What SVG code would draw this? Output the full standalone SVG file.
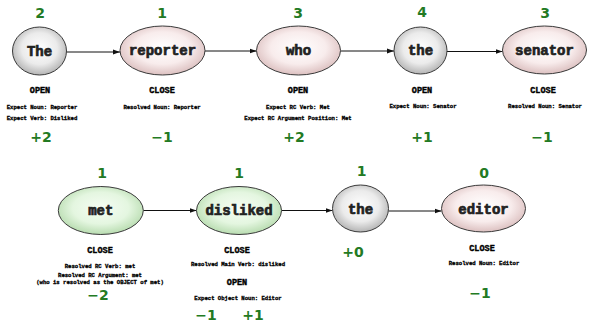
<svg xmlns="http://www.w3.org/2000/svg" width="589" height="325" viewBox="0 0 589 325">
  <defs>
    <radialGradient id="gGray" cx="50%" cy="45%" r="55%">
      <stop offset="0" stop-color="#ffffff"/>
      <stop offset="0.6" stop-color="#ebebeb"/>
      <stop offset="1" stop-color="#b4b4b4"/>
    </radialGradient>
    <radialGradient id="gPink" cx="50%" cy="45%" r="55%">
      <stop offset="0" stop-color="#ffffff"/>
      <stop offset="0.6" stop-color="#f8ecec"/>
      <stop offset="1" stop-color="#dcc0c0"/>
    </radialGradient>
    <radialGradient id="gGreen" cx="50%" cy="45%" r="55%">
      <stop offset="0" stop-color="#f6fdf4"/>
      <stop offset="0.6" stop-color="#e4f6e0"/>
      <stop offset="1" stop-color="#b8dcb0"/>
    </radialGradient>
    <marker id="arrow" markerWidth="7" markerHeight="6" refX="7" refY="3" orient="auto" markerUnits="userSpaceOnUse">
      <path d="M0,0.5 L7,3 L0,5.5 z" fill="#111"/>
    </marker>
  </defs>
  <style>
    .node { stroke: #3a3a3a; stroke-width: 1; }
    .gray { fill: url(#gGray); }
    .pink { fill: url(#gPink); }
    .green { fill: url(#gGreen); }
    .mono { font-family: 'Liberation Mono', 'DejaVu Sans Mono', monospace; font-weight: bold; text-anchor: middle; }
    .lbl { font-size: 14px; fill: #222; dominant-baseline: central; stroke: #222; stroke-width: 0.7; }
    .num { font-family: 'DejaVu Sans', Verdana, sans-serif; font-weight: bold; font-size: 14px; fill: #237a23; text-anchor: middle; }
    .act { font-size: 8.5px; fill: #000; stroke: #000; stroke-width: 0.4; }
    .det { font-size: 5.6px; fill: #000; stroke: #000; stroke-width: 0.3; }
    .edge { stroke: #111; stroke-width: 1; fill: none; marker-end: url(#arrow); }
  </style>

  <!-- connectors -->
  <g id="connectors">
    <line class="edge" x1="66.5" y1="52" x2="120" y2="52"/>
    <line class="edge" x1="205" y1="51" x2="256.5" y2="51"/>
    <line class="edge" x1="340.5" y1="51" x2="394" y2="51"/>
    <line class="edge" x1="447" y1="51.5" x2="502.5" y2="51.5"/>
    <line class="edge" x1="143.3" y1="210.5" x2="196.5" y2="210.5"/>
    <line class="edge" x1="281.5" y1="210.5" x2="332.5" y2="210.5"/>
    <line class="edge" x1="388.5" y1="211" x2="441.5" y2="211"/>
  </g>

  <!-- row 1 -->
  <g id="n-The">
    <text class="num" x="40" y="18">2</text>
    <ellipse class="node gray" cx="39.5" cy="51" rx="27" ry="24"/>
    <text class="mono lbl" x="39.5" y="52">The</text>
    <text class="mono act" x="40" y="93">OPEN</text>
    <text class="mono det" x="42" y="108.5">Expect Noun: Reporter</text>
    <text class="mono det" x="42" y="120">Expect Verb: Disliked</text>
    <text class="num" x="41" y="142">+2</text>
  </g>

  <g id="n-reporter">
    <text class="num" x="162" y="18">1</text>
    <ellipse class="node pink" cx="162.5" cy="50.5" rx="42.5" ry="24.5"/>
    <text class="mono lbl" x="162.5" y="51">reporter</text>
    <text class="mono act" x="162" y="93">CLOSE</text>
    <text class="mono det" x="162" y="108.5">Resolved Noun: Reporter</text>
    <text class="num" x="162" y="142">−1</text>
  </g>

  <g id="n-who">
    <text class="num" x="298" y="18">3</text>
    <ellipse class="node pink" cx="298.5" cy="50.5" rx="42" ry="24.5"/>
    <text class="mono lbl" x="298.5" y="51">who</text>
    <text class="mono act" x="298" y="93">OPEN</text>
    <text class="mono det" x="298" y="108.5">Expect RC Verb: Met</text>
    <text class="mono det" x="298" y="120">Expect RC Argument Position: Met</text>
    <text class="num" x="294" y="142">+2</text>
  </g>

  <g id="n-the1">
    <text class="num" x="422" y="17">4</text>
    <ellipse class="node gray" cx="420.5" cy="50.5" rx="26.5" ry="23.5"/>
    <text class="mono lbl" x="420.5" y="51">the</text>
    <text class="mono act" x="422" y="93">OPEN</text>
    <text class="mono det" x="423" y="107.5">Expect Noun: Senator</text>
    <text class="num" x="422" y="142">+1</text>
  </g>

  <g id="n-senator">
    <text class="num" x="545" y="18">3</text>
    <ellipse class="node pink" cx="544.5" cy="50" rx="42" ry="24"/>
    <text class="mono lbl" x="544.5" y="51">senator</text>
    <text class="mono act" x="543" y="93">CLOSE</text>
    <text class="mono det" x="545" y="107.5">Resolved Noun: Senator</text>
    <text class="num" x="542" y="142">−1</text>
  </g>

  <!-- row 2 -->
  <g id="n-met">
    <text class="num" x="102" y="178">1</text>
    <ellipse class="node green" cx="100.8" cy="210.5" rx="42.5" ry="24"/>
    <text class="mono lbl" x="100.8" y="211">met</text>
    <text class="mono act" x="100" y="252.5">CLOSE</text>
    <text class="mono det" x="100" y="268">Resolved RC Verb: met</text>
    <text class="mono det" x="100" y="277">Resolved RC Argument: met</text>
    <text class="mono det" x="100" y="283.5">(who is resolved as the OBJECT of met)</text>
    <text class="num" x="98" y="300">−2</text>
  </g>

  <g id="n-disliked">
    <text class="num" x="239" y="178">1</text>
    <ellipse class="node green" cx="239" cy="210.5" rx="42.5" ry="24"/>
    <text class="mono lbl" x="239" y="211">disliked</text>
    <text class="mono act" x="237" y="252.5">CLOSE</text>
    <text class="mono det" x="238" y="266">Resolved Main Verb: disliked</text>
    <text class="mono act" x="237" y="285">OPEN</text>
    <text class="mono det" x="238" y="300">Expect Object Noun: Editor</text>
    <text class="num" x="206" y="320">−1</text>
    <text class="num" x="253" y="320">+1</text>
  </g>

  <g id="n-the2">
    <text class="num" x="361.5" y="176">1</text>
    <ellipse class="node gray" cx="360.5" cy="208.5" rx="28" ry="23.5"/>
    <text class="mono lbl" x="360.5" y="209.5">the</text>
    <text class="num" x="353" y="257">+0</text>
  </g>

  <g id="n-editor">
    <text class="num" x="484" y="177.5">0</text>
    <ellipse class="node pink" cx="483.5" cy="208.5" rx="42" ry="23.5"/>
    <text class="mono lbl" x="483.5" y="209.5">editor</text>
    <text class="mono act" x="482" y="251">CLOSE</text>
    <text class="mono det" x="484" y="265">Resolved Noun: Editor</text>
    <text class="num" x="480" y="298">−1</text>
  </g>
</svg>
